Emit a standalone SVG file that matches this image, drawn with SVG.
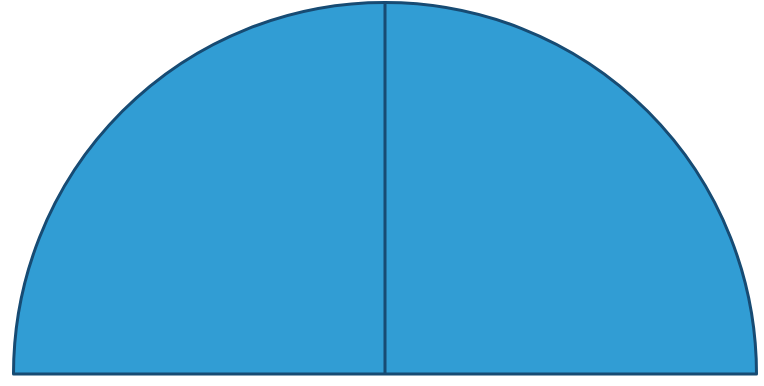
<svg xmlns="http://www.w3.org/2000/svg" width="764" height="386" viewBox="0 0 764 386">
<style>.s{fill:#319dd4;stroke:#174b73;stroke-width:3;stroke-linejoin:round}.l{stroke:#174b73;stroke-width:3;fill:none}</style>
<rect width="764" height="386" fill="#ffffff"/>
<g id="semicircle">
<path class="s" d="M13.5 374 A371 371 0 0 1 756.5 374 Z"/>
</g>
<g id="connectors">
<line class="l" x1="385" y1="3" x2="385" y2="374"/>
</g>
</svg>
